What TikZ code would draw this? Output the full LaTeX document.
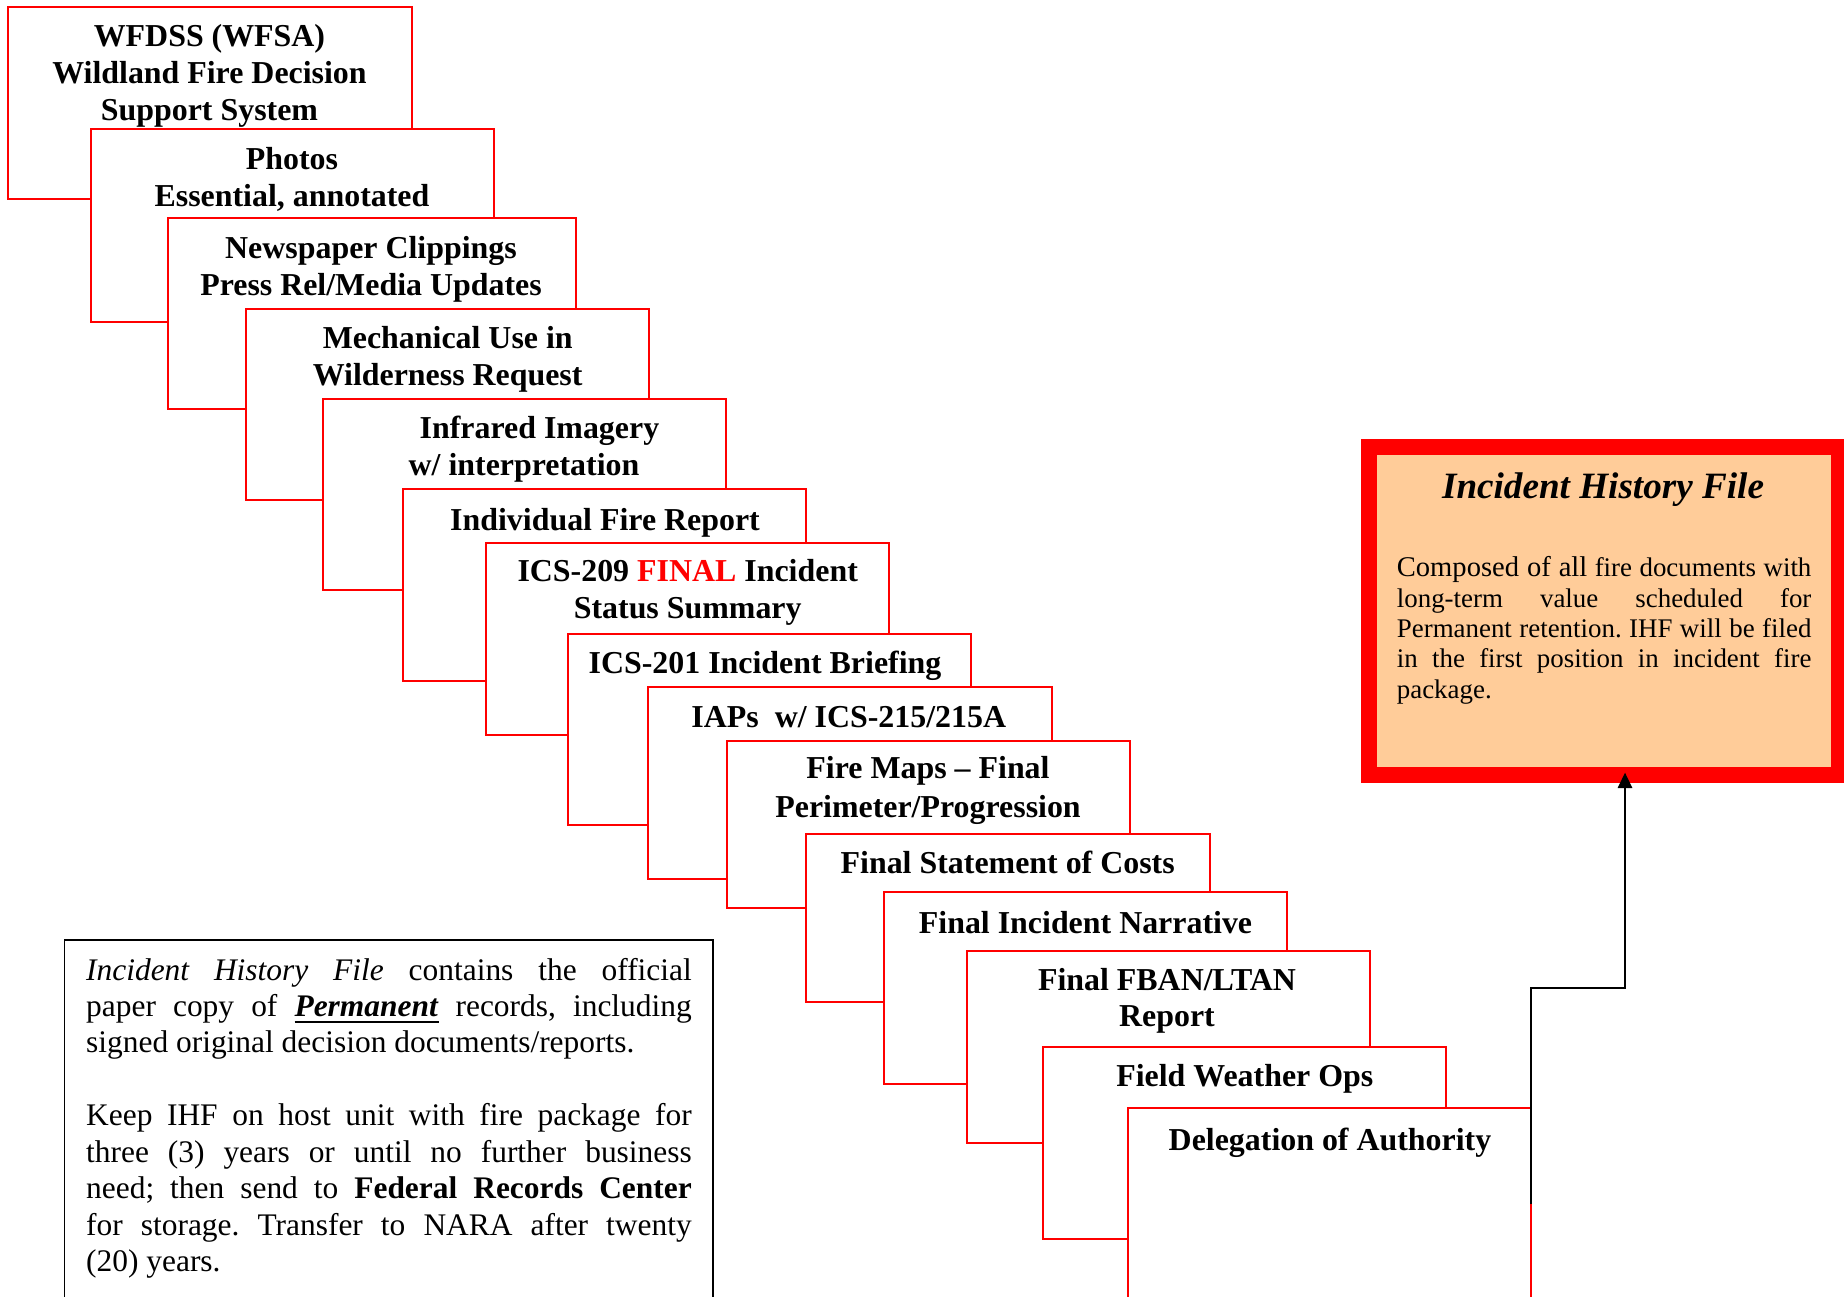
\documentclass[tikz,border=0pt]{standalone}
\usepackage{fontspec}
\setmainfont{Liberation Serif}
\usetikzlibrary{arrows.meta}
\definecolor{ihfpeach}{RGB}{255,204,153}
\newcommand\cardlines[1]{\begin{tabular}[t]{@{}c@{}}#1\end{tabular}}
\newcommand\jline[1]{\makebox[\linewidth][s]{#1}}
\newcommand\thickul[1]{\setbox0\hbox{#1}\rlap{\rule[-2.8pt]{\wd0}{1.1pt}}\box0\relax}
\frenchspacing
\begin{document}
\begin{tikzpicture}[x=0.42pt,y=-0.42pt,
  card/.style={draw=red, line width=0.84pt, fill=white, anchor=north west,
    inner sep=0pt, outer sep=0pt, minimum width=403*0.42pt, minimum height=192*0.42pt},
  cardsize/.style 2 args={minimum width=#1*0.42pt, minimum height=#2*0.42pt},
  cardtext/.style={anchor=base, inner sep=0pt, font=\fontsize{13.4}{15.5}\selectfont\bfseries},
  ihfbox/.style={draw=red, fill=ihfpeach, line width=6.72pt, inner sep=0pt, outer sep=0pt,
    minimum width=470*0.42pt, minimum height=328*0.42pt},
  notebox/.style={draw=black, line width=0.6pt, fill=white, anchor=north west, inner sep=0pt,
    outer sep=0pt, minimum width=648.5*0.42pt, minimum height=420*0.42pt},
  conn/.style={draw=black, line width=0.9pt, -{Triangle[width=6pt,length=6.5pt]}, shorten >=-1pt}
]
\useasboundingbox (0,0) rectangle (1844,1297);

% stacked cards
\node[card, cardsize={404}{192}] (c1) at (7.5,6.7) {};
\node[cardtext] (t1) at (209.5,46.7) {\cardlines{WFDSS (WFSA)\\ Wildland Fire Decision\\ Support System}};
\node[card, cardsize={403}{192.4}] (c2) at (90.7,129.3) {};
\node[cardtext] (t2) at (292,170) {\cardlines{Photos\\ Essential, annotated}};
\node[card, cardsize={408}{191.6}] (c3) at (167.6,217.7) {};
\node[cardtext] (t3) at (371,258.3) {\cardlines{Newspaper Clippings\\ Press Rel/Media Updates}};
\node[card, cardsize={402.4}{191.3}] (c4) at (246.2,308.7) {};
\node[cardtext] (t4) at (447.7,348.3) {\cardlines{Mechanical Use in\\ Wilderness Request}};
\node[card, cardsize={403}{191}] (c5) at (323.2,399) {};
\node[cardtext] (t5) at (524,438.3) {\cardlines{\hspace*{13pt}Infrared Imagery\\ w/ interpretation}};
\node[card, cardsize={403.3}{192}] (c6) at (403,489.3) {};
\node[cardtext] (t6) at (605,530) {Individual Fire Report};
\node[card, cardsize={403}{192.3}] (c7) at (486.4,542.7) {};
\node[cardtext] (t7) at (687.7,581.7) {\cardlines{ICS-209 \textcolor{red}{FINAL} Incident\\ Status Summary}};
\node[card, cardsize={403}{191.6}] (c8) at (568,633.7) {};
\node[cardtext] (t8) at (765,673.3) {ICS-201 Incident Briefing};
\node[card, cardsize={403.4}{191.7}] (c9) at (648.1,687) {};
\node[cardtext] (t9) at (848.8,727.3) {IAPs\ \ w/ ICS-215/215A};
\node[card, cardsize={403}{167.6}] (c10) at (726.7,740.7) {};
\node[cardtext] (t10) at (928,778.3) {\cardlines{Fire Maps -- Final\\[1pt] Perimeter/Progression}};
\node[card, cardsize={403.7}{168}] (c11) at (805.8,833.7) {};
\node[cardtext] (t11) at (1007.7,873.3) {Final Statement of Costs};
\node[card, cardsize={403}{192.6}] (c12) at (883.7,891.7) {};
\node[cardtext] (t12) at (1085.5,933.3) {Final Incident Narrative};
\node[card, cardsize={403}{191.7}] (c13) at (966.5,951) {};
\node[cardtext] (t13) at (1167,990) {\cardlines{Final FBAN/LTAN\\ Report}};
\node[card, cardsize={403}{191.7}] (c14) at (1043.3,1047) {};
\node[cardtext] (t14) at (1244.8,1086.7) {Field Weather Ops};
\node[card, cardsize={403}{192}] (c15) at (1128.3,1108.3) {};
\node[cardtext] (t15) at (1330,1150) {Delegation of Authority};

% Incident History File box
\node[ihfbox] (ihf) at (1604,611) {};
\node[anchor=base, inner sep=0pt, font=\fontsize{15.6}{18}\selectfont\bfseries\itshape] (ihft) at (1603,498) {Incident History File};
\node[anchor=base west, inner sep=0pt] (ihfb) at (1396.4,576.7) {\parbox[t]{174.1pt}{\fontsize{11.3}{12.77}\selectfont
\jline{{\fontsize{12}{12.77}\selectfont Composed of all} fire documents with}\\
\jline{long-term value scheduled for}\\
\jline{Permanent retention. IHF will be filed}\\
\jline{in the first position in incident fire}\\
package.}};

% note box
\node[notebox] (note) at (64.3,940) {};
\node[anchor=base west, inner sep=0pt] (notet) at (85.7,980) {\parbox[t]{254.35pt}{\fontsize{13.2}{15.31}\selectfont
\jline{\textit{Incident History File} contains the official}\\
\jline{paper copy of \thickul{\textbf{\textit{Permanent}}} records, including}\\
signed original decision documents/reports.\\[15.31pt]
\jline{Keep IHF on host unit with fire package for}\\
\jline{three (3) years or until no further business}\\
\jline{need; then send to \textbf{Federal Records Center}}\\
\jline{for storage. Transfer to NARA after twenty}\\
(20) years.}};

% connector
\coordinate (cbend) at (1625,988);
\draw[conn] (c15.east) |- (cbend) -- (cbend |- ihf.south);
\end{tikzpicture}
\end{document}
